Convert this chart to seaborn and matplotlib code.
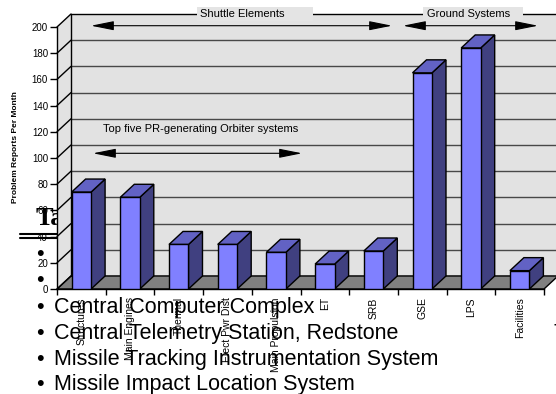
import numpy as np
import matplotlib
matplotlib.use("Agg")
import matplotlib.pyplot as plt
from matplotlib.patches import Polygon, Rectangle, FancyArrowPatch
from matplotlib.lines import Line2D
from matplotlib.transforms import IdentityTransform
import seaborn as sns

# ---- data -------------------------------------------------------------
systems = ["Structures", "Main Engines", "Thermal", "Elect Pwr Dist",
           "Main Propulsion", "ET", "SRB", "GSE", "LPS", "Facilities"]
reports = [74, 70, 34, 34, 28, 19, 29, 165, 184, 14]
value_ticks = [0, 20, 40, 60, 80, 100, 120, 140, 160, 180, 200]

list_items = ["Central Computer Complex",
              "Central Telemetry Station, Redstone",
              "Missile Tracking Instrumentation System",
              "Missile Impact Location System"]
right_column = ["I", "T", "I", "I"]

# ---- style ------------------------------------------------------------
sns.set_theme(style="white")
plt.rcParams["font.family"] = ["Liberation Sans", "DejaVu Sans"]

W, H = 556, 394
fig = plt.figure(figsize=(W / 100, H / 100), dpi=100)
fig.patch.set_facecolor("white")

ax = fig.add_axes([57 / W, (H - 289) / H, 487 / W, 262 / H])
ax.set_facecolor("none")

n = len(systems)
x0, x1 = -0.5, n - 0.5
top = value_ticks[-1]

# depth offset of the pseudo-3D box (category units, value units)
DX = 14 / 48.7
DY = 13 / 1.3085

WALL = "#e2e2e2"
FLOOR = "#808080"
FRONT = "#8080ff"
SIDE = "#404080"
TOP = "#6262c4"

# ---- bars -------------------------------------------------------------
sns.barplot(x=systems, y=reports, color=FRONT, saturation=1, width=0.4,
            edgecolor="black", linewidth=1, ax=ax, zorder=3)
bars = list(ax.patches)

for r in bars:
    bx, bw, h = r.get_x(), r.get_width(), r.get_height()
    side = Polygon([(bx + bw, 0), (bx + bw + DX, DY), (bx + bw + DX, h + DY), (bx + bw, h)],
                   closed=True, fc=SIDE, ec="black", lw=1, zorder=2.9, clip_on=False)
    lid = Polygon([(bx, h), (bx + DX, h + DY), (bx + bw + DX, h + DY), (bx + bw, h)],
                  closed=True, fc=TOP, ec="black", lw=1, zorder=2.9, clip_on=False)
    ax.add_patch(side)
    ax.add_patch(lid)

# ---- walls and floor --------------------------------------------------
ax.add_patch(Polygon([(x0 + DX, DY), (x1 + DX, DY), (x1 + DX, top + DY), (x0 + DX, top + DY)],
                     closed=True, fc=WALL, ec="none", zorder=0.5, clip_on=False))
ax.add_patch(Polygon([(x0, 0), (x0 + DX, DY), (x0 + DX, top + DY), (x0, top)],
                     closed=True, fc=WALL, ec="none", zorder=0.5, clip_on=False))
ax.add_patch(Polygon([(x0, 0), (x1, 0), (x1 + DX, DY), (x0 + DX, DY)],
                     closed=True, fc=FLOOR, ec="black", lw=1, zorder=0.6, clip_on=False))

for v in value_ticks:
    ax.plot([x0 + DX, x1 + DX], [v + DY, v + DY],
            color="black" if v == top else "#484848", lw=1, zorder=0.55, clip_on=False)
    ax.plot([x0, x0 + DX], [v, v + DY], color="black", lw=1, zorder=0.7, clip_on=False)
ax.plot([x0 + DX, x0 + DX], [DY, top + DY], color="black", lw=1, zorder=0.7, clip_on=False)

# ---- axes -------------------------------------------------------------
ax.set_xlim(x0, x1)
ax.set_ylim(0, top)
for s in ("top", "right"):
    ax.spines[s].set_visible(False)
for s in ("left", "bottom"):
    ax.spines[s].set_color("black")
    ax.spines[s].set_linewidth(1)
    ax.spines[s].set_zorder(0.8)

ax.set_yticks(value_ticks)
ax.tick_params(axis="y", which="major", left=True, direction="out", length=5,
               width=1, color="black", labelsize=7, pad=1.5, labelcolor="black")

ax.set_xticks(range(n))
ax.set_xticklabels(systems, rotation=90, fontsize=7.5, color="black")
ax.tick_params(axis="x", which="major", bottom=True, length=0, pad=6)
ax.set_xticks(np.arange(n + 1) - 0.5, minor=True)
ax.tick_params(axis="x", which="minor", bottom=True, direction="out",
               length=4.5, width=1, color="black")
ax.set_xlabel("")

ax.set_ylabel("Problem Reports Per Month", fontsize=6, fontweight="bold", color="black")
ax.yaxis.set_label_coords(-0.078, 0.54)

# ---- group annotations (pixel positions measured from the top-left) ----
def fp(x, y):
    return (x, H - y)

arrow_kw = dict(arrowstyle="<|-|>,head_length=1.4,head_width=0.28", color="black",
                lw=0.8, shrinkA=0, shrinkB=0, mutation_scale=10)

for xa, xb, y in [(91, 392, 25.7), (403, 538, 25.7), (93, 302, 153.3)]:
    fig.add_artist(FancyArrowPatch(fp(xa, y), fp(xb, y), transform=IdentityTransform(),
                                   zorder=4, **arrow_kw))

for bx0, bx1, tx, label in [(197, 313, 200, "Shuttle Elements"),
                            (423, 523, 427, "Ground Systems")]:
    fig.add_artist(Rectangle(fp(bx0, 20.5), bx1 - bx0, 13.5, transform=IdentityTransform(),
                             fc="#e4e4e4", ec="none", zorder=3))
    fig.text(tx / W, 1 - 14 / H, label, fontsize=8, va="center", ha="left",
             color="black", zorder=5)

fig.text(103 / W, 1 - 129 / H, "Top five PR-generating Orbiter systems",
         fontsize=8, va="center", ha="left", color="black", zorder=5)

# ---- slide text behind and in front of the chart ----------------------
fig.text(36 / W, 1 - 225 / H, "Ta", fontsize=19, fontweight="bold",
         family=["Liberation Serif", "DejaVu Serif"], va="baseline", ha="left",
         color="black", zorder=-1)
for yy in (233.5, 237.5):
    fig.add_artist(Line2D([20, 70], [H - yy, H - yy], transform=IdentityTransform(),
                          color="black", lw=1.5, zorder=-1))
for base in (260, 286):
    fig.text(40 / W, 1 - base / H, "\u2022", fontsize=15.5, va="baseline",
             ha="center", color="black", zorder=-1)

for i, item in enumerate(list_items):
    base = 313 + 25.8 * i
    fig.text(40 / W, 1 - base / H, "\u2022", fontsize=15.5, va="baseline",
             ha="center", color="black", zorder=6)
    fig.text(54 / W, 1 - base / H, item, fontsize=15.5, va="baseline",
             ha="left", color="black", zorder=6)
    fig.text(554 / W, 1 - base / H, right_column[i], fontsize=15.5, va="baseline",
             ha="left", color="black", zorder=6)

fig.savefig("out.png", dpi=100, facecolor="white")
